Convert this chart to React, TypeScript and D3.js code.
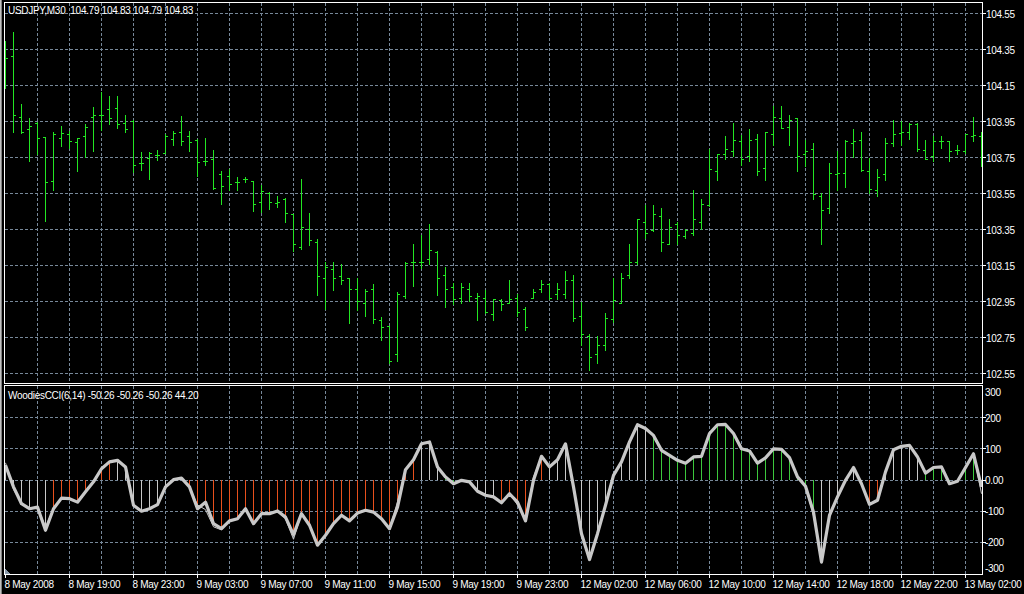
import React from "react";
import * as d3 from "d3";

// USDJPY M30, 8 May 2008 15:00 .. 13 May 2008 03:00 (bar index 0..122)
const opens = [
  104.181, 104.31, 103.973, 103.903, 103.94, 103.862, 103.616, 103.853, 103.875, 103.836,
  103.866, 103.973, 103.986, 104.014, 104.023, 103.94, 103.949, 103.714, 103.746, 103.76,
  103.773, 103.851, 103.888, 103.866, 103.843, 103.727, 103.74, 103.658, 103.643, 103.612,
  103.625, 103.616, 103.501, 103.551, 103.492, 103.514, 103.431, 103.251, 103.351, 103.279,
  103.079, 103.129, 103.09, 103.079, 103.018, 102.94, 103.014, 102.842, 102.81, 102.653,
  102.977, 103.166, 103.168, 103.181, 103.221, 103.092, 103.029, 102.968, 103.018, 102.968,
  102.968, 102.879, 102.953, 102.94, 102.968, 102.903, 102.968, 103.019, 103.042, 102.99,
  102.99, 103.066, 102.866, 102.754, 102.653, 102.707, 102.851, 102.94, 103.092, 103.166,
  103.39, 103.342, 103.425, 103.269, 103.375, 103.31, 103.329, 103.39, 103.481, 103.675,
  103.764, 103.786, 103.838, 103.754, 103.851, 103.69, 103.875, 103.968, 103.914, 103.964,
  103.764, 103.792, 103.531, 103.464, 103.653, 103.662, 103.825, 103.842, 103.671, 103.564,
  103.653, 103.825, 103.881, 103.888, 103.936, 103.788, 103.754, 103.838, 103.838, 103.788,
  103.786, 103.866, 103.866,
];
const highs = [
  104.397, 104.447, 104.042, 103.966, 103.943, 103.862, 103.888, 103.925, 103.893, 103.857,
  103.936, 104.027, 104.11, 104.088, 104.088, 103.986, 103.953, 103.777, 103.777, 103.788,
  103.875, 103.893, 103.977, 103.893, 103.851, 103.857, 103.788, 103.671, 103.681, 103.638,
  103.638, 103.619, 103.593, 103.554, 103.532, 103.523, 103.431, 103.625, 103.44, 103.292,
  103.166, 103.169, 103.153, 103.079, 103.079, 103.014, 103.042, 102.86, 102.81, 103.001,
  103.168, 103.269, 103.319, 103.375, 103.227, 103.14, 103.051, 103.051, 103.051, 102.992,
  103.01, 102.962, 102.962, 103.064, 102.99, 102.918, 103.019, 103.069, 103.051, 103.051,
  103.119, 103.092, 102.943, 102.769, 102.758, 102.881, 103.079, 103.103, 103.269, 103.403,
  103.481, 103.481, 103.464, 103.403, 103.39, 103.351, 103.566, 103.514, 103.792, 103.764,
  103.866, 103.94, 103.871, 103.903, 103.875, 103.888, 104.036, 104.036, 103.986, 103.964,
  103.847, 103.825, 103.551, 103.714, 103.782, 103.842, 103.903, 103.89, 103.746, 103.681,
  103.857, 103.953, 103.949, 103.94, 103.94, 103.843, 103.866, 103.866, 103.838, 103.814,
  103.879, 103.973, 103.89,
];
const lows = [
  104.131, 103.888, 103.884, 103.727, 103.768, 103.397, 103.569, 103.81, 103.799, 103.671,
  103.751, 103.786, 103.899, 103.936, 103.91, 103.888, 103.666, 103.677, 103.625, 103.736,
  103.773, 103.819, 103.814, 103.782, 103.643, 103.707, 103.573, 103.488, 103.566, 103.569,
  103.61, 103.449, 103.446, 103.462, 103.473, 103.388, 103.227, 103.24, 103.26, 102.986,
  102.903, 103.01, 103.047, 102.825, 102.899, 102.866, 102.825, 102.736, 102.603, 102.616,
  102.964, 103.036, 103.134, 103.158, 102.986, 102.916, 102.931, 102.94, 102.949, 102.847,
  102.884, 102.847, 102.899, 102.94, 102.866, 102.788, 102.964, 102.999, 102.962, 102.962,
  102.968, 102.838, 102.708, 102.566, 102.607, 102.677, 102.835, 102.94, 103.079, 103.153,
  103.301, 103.338, 103.227, 103.269, 103.264, 103.301, 103.316, 103.351, 103.477, 103.621,
  103.74, 103.754, 103.704, 103.727, 103.649, 103.621, 103.819, 103.912, 103.819, 103.671,
  103.699, 103.514, 103.264, 103.44, 103.566, 103.582, 103.751, 103.671, 103.551, 103.532,
  103.621, 103.81, 103.816, 103.851, 103.782, 103.74, 103.727, 103.801, 103.727, 103.769,
  103.773, 103.838, 103.699,
];
const closes = [
  104.301, 103.986, 103.888, 103.925, 103.853, 103.61, 103.875, 103.884, 103.84, 103.854,
  103.918, 103.984, 103.982, 103.968, 103.931, 103.907, 103.703, 103.718, 103.773, 103.76,
  103.866, 103.884, 103.838, 103.832, 103.723, 103.727, 103.579, 103.588, 103.601, 103.612,
  103.625, 103.49, 103.56, 103.501, 103.501, 103.44, 103.264, 103.362, 103.288, 103.09,
  103.14, 103.079, 103.069, 103.014, 102.949, 103.004, 102.851, 102.803, 102.616, 102.99,
  103.162, 103.169, 103.168, 103.231, 103.079, 103.018, 102.962, 103.029, 102.977, 102.977,
  102.888, 102.962, 102.931, 102.962, 102.89, 102.807, 103.001, 103.042, 102.968, 103.014,
  103.069, 102.857, 102.764, 102.64, 102.703, 102.857, 102.958, 103.079, 103.168, 103.403,
  103.329, 103.431, 103.279, 103.362, 103.319, 103.343, 103.403, 103.49, 103.681, 103.764,
  103.792, 103.842, 103.74, 103.842, 103.671, 103.888, 103.973, 103.912, 103.958, 103.754,
  103.782, 103.542, 103.453, 103.662, 103.662, 103.838, 103.838, 103.677, 103.573, 103.64,
  103.825, 103.875, 103.888, 103.936, 103.796, 103.74, 103.838, 103.838, 103.786, 103.788,
  103.875, 103.873, 103.792,
];

// Woodies CCI: thick CCI(14), thin turbo CCI(6), histogram trend colour
const cciMain = [
  47, -22, -76, -92, -87, -161, -92, -58, -60, -71,
  -38, -6, 36, 58, 63, 42, -81, -100, -92, -79,
  -22, 1, 6, -22, -92, -71, -140, -156, -131, -124,
  -92, -140, -108, -108, -99, -119, -175, -108, -145, -209,
  -177, -140, -113, -131, -106, -97, -103, -124, -156, -87,
  33, 65, 116, 122, 42, 10, -12, -1, -6, -36,
  -49, -54, -73, -44, -71, -131, -1, 76, 42, 65,
  116, -22, -172, -255, -172, -81, 15, 58, 122, 177,
  165, 143, 95, 79, 63, 54, 74, 76, 149, 177,
  178, 149, 100, 93, 54, 71, 100, 98, 72, 10,
  -20, -103, -263, -113, -54, -1, 40, -12, -78, -65,
  26, 97, 108, 111, 74, 22, 40, 42, -12, -4,
  40, 84, -22,
];
const cciTurbo = [
  55, -30, -76, -92, -87, -150, -92, -58, -60, -71,
  -38, -6, 36, 58, 63, 42, -81, -100, -92, -79,
  -22, 1, 6, -22, -80, -95, -150, -160, -131, -124,
  -92, -140, -108, -108, -99, -125, -190, -108, -145, -205,
  -177, -140, -113, -131, -106, -97, -103, -124, -156, -70,
  33, 65, 116, 122, 42, 10, -12, -1, -6, -36,
  -49, -54, -73, -44, -80, -120, 10, 76, 42, 65,
  116, -22, -172, -255, -172, -81, 15, 58, 122, 177,
  165, 143, 95, 79, 63, 54, 74, 76, 149, 177,
  178, 149, 100, 93, 54, 71, 100, 98, 72, 10,
  -20, -115, -250, -113, -54, -1, 40, -12, -78, -65,
  26, 97, 108, 111, 74, 22, 40, 42, -12, -4,
  40, 84, -44,
];
// 0 = neutral (silver), -1 = down trend (red), 1 = up trend (green)
const histTrend = [
  0, 0, 0, 0, 0, 0, -1, -1, -1, -1,
  -1, -1, -1, -1, 0, 0, 0, 0, 0, 0,
  0, 0, 0, -1, -1, -1, -1, -1, -1, -1,
  -1, -1, -1, -1, -1, -1, -1, -1, -1, -1,
  -1, -1, -1, -1, -1, -1, -1, -1, -1, -1,
  -1, -1, 0, 0, 0, 1, 1, 1, 1, 0,
  0, 0, -1, -1, -1, -1, 0, -1, 0, 0,
  0, 0, 0, 0, 0, 0, 0, 0, 0, 0,
  0, 1, 1, 1, 1, 1, 1, 1, 1, 1,
  1, 1, 1, 1, 1, 1, 1, 1, 1, 1,
  1, 1, 0, 0, 0, 0, 0, 0, -1, -1,
  0, 0, 0, 0, 0, 1, 1, 1, 1, 1,
  1, 1, 0,
];

const timeLabels = [
  "8 May 2008", "8 May 19:00", "8 May 23:00", "9 May 03:00", "9 May 07:00",
  "9 May 11:00", "9 May 15:00", "9 May 19:00", "9 May 23:00", "12 May 02:00",
  "12 May 06:00", "12 May 10:00", "12 May 14:00", "12 May 18:00", "12 May 22:00",
  "13 May 02:00",
];
const priceTicks = [104.55, 104.35, 104.15, 103.95, 103.75, 103.55, 103.35, 103.15, 102.95, 102.75, 102.55];
const cciTicks = [300, 200, 100, 0, -100, -200, -300];

const GRID = "#778899";
const BAR = "#22e622";
const SILVER = "#c8c8c8";
const trendColor = (t: number) => (t > 0 ? "#3cc83c" : t < 0 ? "#e8501c" : SILVER);
const FONT = "'Liberation Sans', Arial, sans-serif";

export default function App() {
  const left = 4, right = 982;
  const pTop = 2, pBottom = 383, iTop = 385, iBottom = 574;

  const x = d3.scaleLinear().domain([0, 122]).range([5.5, 981.5]);
  const y = d3.scaleLinear().domain([102.55, 104.55]).range([373.5, 13.5]);
  const yc = d3.scaleLinear().domain([-100, 100]).range([511.2, 448.8]);
  const px = (v: number) => Math.floor(v) + 0.5;

  const line = d3.line<number>().x((_, i) => x(i)).y((d) => yc(d));
  const vGrid = d3.range(4, 123, 4);

  const textProps = {
    fill: "#ffffff",
    fontFamily: FONT,
    fontSize: 10,
    letterSpacing: -0.3,
    style: { whiteSpace: "pre" as const },
  };

  return (
    <div style={{ position: "absolute", left: 0, top: 0, width: 1024, height: 594 }}>
      <svg width={1024} height={594} style={{ display: "block" }} shapeRendering="crispEdges">
        <defs>
          <clipPath id="pclip">
            <rect x={left + 1} y={pTop + 1} width={right - left - 1} height={pBottom - pTop - 1} />
          </clipPath>
          <clipPath id="iclip">
            <rect x={left + 1} y={iTop + 1} width={right - left - 1} height={iBottom - iTop - 1} />
          </clipPath>
        </defs>
        <rect x={0} y={0} width={1024} height={594} fill="#000" />
        <rect x={0} y={0} width={1} height={594} fill="#c0c0c0" />
        <rect x={1} y={0} width={1} height={594} fill="#808080" />

        {/* grids */}
        <g stroke={GRID} strokeDasharray="3,2" strokeWidth={1}>
          {vGrid.map((k) => (
            <g key={k}>
              <line x1={x(k)} x2={x(k)} y1={pTop + 1} y2={pBottom} />
              <line x1={x(k)} x2={x(k)} y1={iTop + 1} y2={iBottom} />
            </g>
          ))}
          {priceTicks.map((p) => (
            <line key={p} x1={left + 1} x2={right} y1={px(y(p))} y2={px(y(p))} />
          ))}
          {cciTicks.filter((v) => Math.abs(v) < 300).map((v) => (
            <line key={v} x1={left + 1} x2={right} y1={px(yc(v))} y2={px(yc(v))} />
          ))}
        </g>

        {/* OHLC bars */}
        <g clipPath="url(#pclip)" stroke={BAR} strokeWidth={1}>
          {opens.map((o, i) => {
            const cx = x(i);
            return (
              <g key={i}>
                <line x1={cx} x2={cx} y1={px(y(highs[i])) - 0.5} y2={px(y(lows[i])) + 0.5} />
                <line x1={cx - 2.5} x2={cx} y1={px(y(o))} y2={px(y(o))} />
                <line x1={cx} x2={cx + 2.5} y1={px(y(closes[i]))} y2={px(y(closes[i]))} />
              </g>
            );
          })}
        </g>

        {/* CCI histogram and lines */}
        <g clipPath="url(#iclip)">
          {cciMain.map((v, i) => (
            <line
              key={i}
              x1={x(i)}
              x2={x(i)}
              y1={yc(0)}
              y2={yc(v)}
              stroke={trendColor(histTrend[i])}
              strokeWidth={1}
            />
          ))}
          <path
            d={line(cciTurbo) || ""}
            fill="none"
            stroke={SILVER}
            strokeWidth={1}
            shapeRendering="auto"
          />
          <path
            d={line(cciMain) || ""}
            fill="none"
            stroke={SILVER}
            strokeWidth={3.2}
            strokeLinejoin="round"
            shapeRendering="auto"
          />
        </g>

        {/* frames */}
        <g stroke="#ffffff" strokeWidth={1} fill="none">
          <rect x={left + 0.5} y={pTop + 0.5} width={right - left} height={pBottom - pTop} />
          <rect x={left + 0.5} y={iTop + 0.5} width={right - left} height={iBottom - iTop} />
        </g>
        <polygon points={`${left + 1},${iBottom} ${left + 1},${iBottom - 5} ${left + 6},${iBottom}`} fill="#8899aa" />

        {/* price axis */}
        {priceTicks.map((p) => (
          <g key={p}>
            <line x1={right} x2={right + 4} y1={px(y(p))} y2={px(y(p))} stroke="#fff" />
            <text x={986} y={y(p) + 4} {...textProps}>
              {p.toFixed(2)}
            </text>
          </g>
        ))}

        {/* cci axis */}
        {cciTicks.map((v) => {
          const ty = Math.max(iTop + 7, Math.min(iBottom - 6, yc(v)));
          return (
            <g key={v}>
              {Math.abs(v) < 300 && (
                <line x1={right} x2={right + 4} y1={px(yc(v))} y2={px(yc(v))} stroke="#fff" />
              )}
              <text x={985} y={ty + 4} {...textProps}>
                {v === 0 ? "0.00" : String(v)}
              </text>
            </g>
          );
        })}

        {/* time axis */}
        {timeLabels.map((t, k) => {
          const tx = x(k * 8);
          return (
            <g key={t}>
              <line x1={tx} x2={tx} y1={iBottom} y2={iBottom + 4} stroke="#fff" />
              <text x={tx - 1} y={588} {...textProps}>
                {t}
              </text>
            </g>
          );
        })}

        {/* headers */}
        <text x={8} y={14} {...textProps}>
          {"USDJPY,M30  104.79 104.83 104.79 104.83"}
        </text>
        <text x={8} y={399} {...textProps}>
          {"WoodiesCCI(6,14) -50.26 -50.26 -50.26 44.20"}
        </text>
      </svg>
    </div>
  );
}
